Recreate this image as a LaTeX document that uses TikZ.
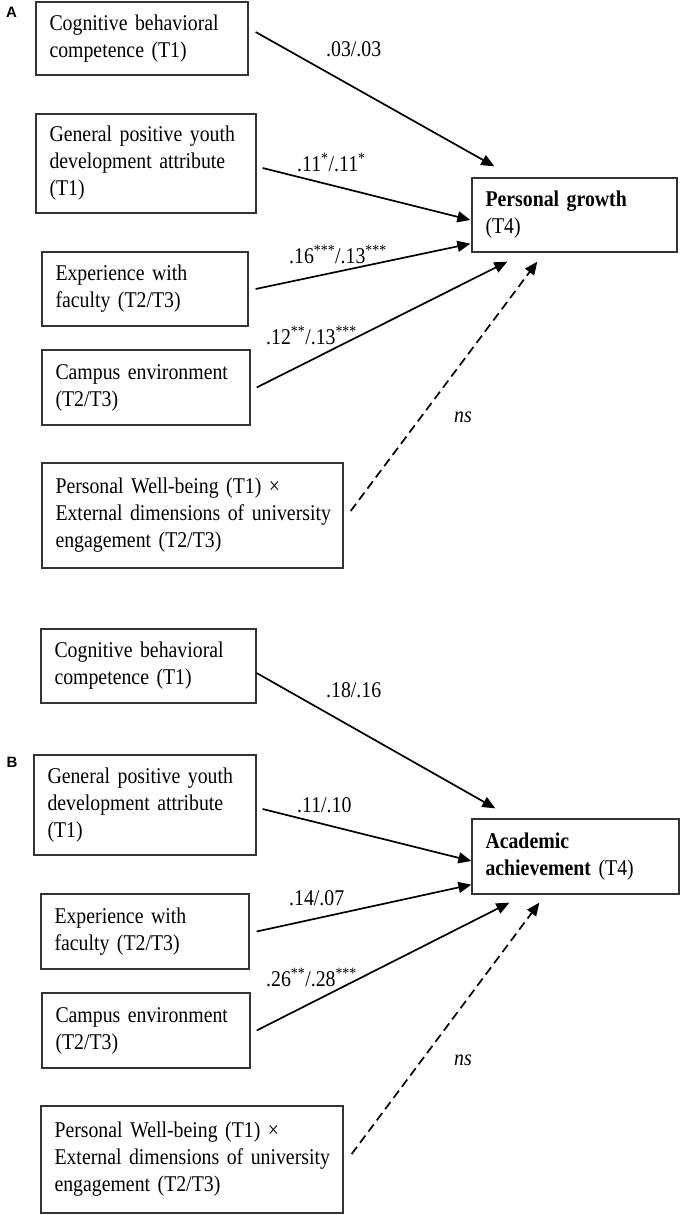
\documentclass[tikz,border=0pt]{standalone}
\usepackage{fontspec}
\setmainfont{Liberation Serif}[FakeStretch=0.88]
\newfontfamily\panelfont{Liberation Sans}
\usetikzlibrary{arrows.meta}
\begin{document}
\begin{tikzpicture}[x=1pt,y=-1pt,
  box/.style={draw=black!80, line width=1.3pt, inner xsep=13.5pt, inner ysep=0pt, align=left,
    font=\fontsize{22.5}{27}\selectfont},
  lbl/.style={anchor=base west, inner sep=0pt, font=\fontsize{22.5}{27}\selectfont},
  arr/.style={line width=1.7pt, -{Triangle[length=13pt,width=11pt]}},
  dasharr/.style={arr, dash pattern=on 9pt off 5pt},
  panel/.style={font=\panelfont\bfseries\fontsize{15}{17}\selectfont, inner sep=0pt}
]
\useasboundingbox (0,0) rectangle (681,1215);

% ---------- Panel A ----------
\node[panel] (pa) at (11.5,12.5) {A};
\node[box, minimum width=212pt, minimum height=73pt, text width=185pt] (a1) at (142,38.5)
  {Cognitive behavioral\\competence (T1)};
\node[box, minimum width=220pt, minimum height=99pt, text width=193pt] (a2) at (146,163.5)
  {General positive youth\\development attribute\\(T1)};
\node[box, minimum width=206pt, minimum height=74pt, text width=179pt] (a3) at (145,289)
  {Experience with\\faculty (T2/T3)};
\node[box, minimum width=208pt, minimum height=75pt, text width=181pt] (a4) at (146,387.5)
  {Campus environment\\(T2/T3)};
\node[box, minimum width=301pt, minimum height=105pt, text width=274pt] (a5) at (192.5,515.5)
  {Personal Well-being (T1) ×\\\mbox{External dimensions of university}\\engagement (T2/T3)};
\node[box, minimum width=205pt, minimum height=74pt, text width=178pt] (at) at (574.5,215)
  {\textbf{Personal growth}\\(T4)};

\node[lbl] (la1) at (326,57) {.03/.03};
\node[lbl] (la2) at (297,171) {.11\textsuperscript{*}/.11\textsuperscript{*}};
\node[lbl] (la3) at (289,263) {.16\textsuperscript{***}/.13\textsuperscript{***}};
\node[lbl] (la4) at (266,344) {.12\textsuperscript{**}/.13\textsuperscript{***}};
\node[lbl] (la5) at (454,422) {\textit{ns}};

\draw[arr] ([shift={(7,-6.5)}]a1.east) -- ([shift={(23,-11)}]at.north west);
\draw[arr] ([shift={(6,4.5)}]a2.east) -- ([shift={(-1,5)}]at.west);
\draw[arr] ([shift={(7,0)}]a3.east) -- ([shift={(-1,-9)}]at.south west);
\draw[arr] ([shift={(6,0)}]a4.east) -- ([shift={(36,9)}]at.south west);
\draw[dasharr] ([shift={(7,-4.5)}]a5.east) -- ([shift={(66,9)}]at.south west);

% ---------- Panel B ----------
\node[panel] (pb) at (12,762) {B};
\node[box, minimum width=215pt, minimum height=74pt, text width=188pt] (b1) at (148.5,666)
  {Cognitive behavioral\\competence (T1)};
\node[box, minimum width=222pt, minimum height=100pt, text width=195pt] (b2) at (145,805)
  {General positive youth\\development attribute\\(T1)};
\node[box, minimum width=208pt, minimum height=75pt, text width=181pt] (b3) at (145,931.5)
  {Experience with\\faculty (T2/T3)};
\node[box, minimum width=208pt, minimum height=75pt, text width=181pt] (b4) at (146,1030.5)
  {Campus environment\\(T2/T3)};
\node[box, minimum width=302pt, minimum height=107pt, text width=275pt] (b5) at (192,1159.5)
  {Personal Well-being (T1) ×\\\mbox{External dimensions of university}\\engagement (T2/T3)};
\node[box, minimum width=207pt, minimum height=75pt, text width=180pt] (bt) at (575.5,856.5)
  {\textbf{Academic}\\\textbf{achievement} (T4)};

\node[lbl] (lb1) at (326,697) {.18/.16};
\node[lbl] (lb2) at (297,812) {.11/.10};
\node[lbl] (lb3) at (289,905) {.14/.07};
\node[lbl] (lb4) at (266,986) {.26\textsuperscript{**}/.28\textsuperscript{***}};
\node[lbl] (lb5) at (454,1065) {\textit{ns}};

\draw[arr] ([shift={(0,7)}]b1.east) -- ([shift={(24,-10)}]bt.north west);
\draw[arr] ([shift={(6,4)}]b2.east) -- ([shift={(0,4.5)}]bt.west);
\draw[arr] ([shift={(7,0)}]b3.east) -- ([shift={(0,-10)}]bt.south west);
\draw[arr] ([shift={(6,0)}]b4.east) -- ([shift={(38,8)}]bt.south west);
\draw[dasharr] ([shift={(8,-5.5)}]b5.east) -- ([shift={(68,8)}]bt.south west);
\end{tikzpicture}
\end{document}
